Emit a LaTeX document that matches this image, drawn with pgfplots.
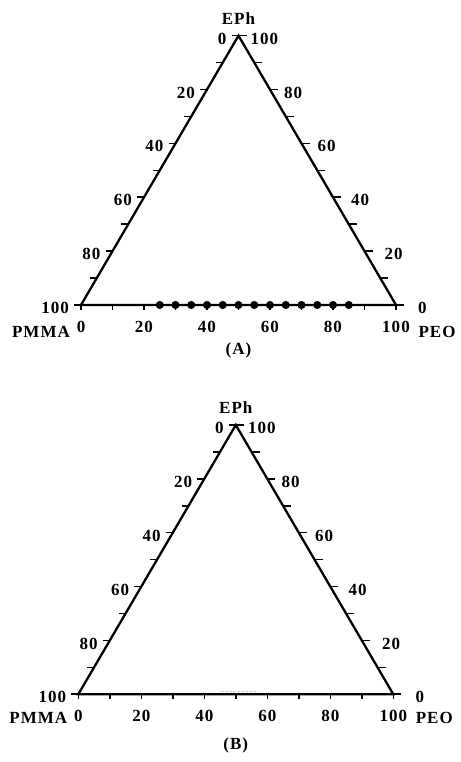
\documentclass[border=0pt]{standalone}
\usepackage{pgfplots}
\pgfplotsset{compat=1.18}
\usepackage{fontspec}
\setmainfont{Liberation Serif}
\newfontfamily\lblfont{Liberation Serif}[LetterSpace=6]
\begin{document}
\begin{tikzpicture}
\path[use as bounding box] (0pt,0pt) rectangle (460pt,762pt);
\tikzset{lbl/.style={font=\lblfont\fontsize{17}{17}\selectfont\bfseries, inner sep=0pt}}
\pgfplotsset{
  tern/.style={
    hide axis, clip=false, scale only axis,
    x=3.15pt, y=3.11pt,
    xmin=0, xmax=100, ymin=0, ymax=86.6,
    anchor=south west,
  },
}
\newcommand{\ternframe}[3]{%
  \addplot[black, line width=2.3pt, line join=miter] coordinates {(0,0) (100,0) (50,86.6) (0,0) (100,0)};
  % bottom ticks
  \pgfplotsinvokeforeach{0,10,...,100}{
    \draw[line width=1.6pt] (axis cs:##1,0) -- ++(0pt,-5pt);
  }
  % left ticks (0 at apex, 100 at bottom-left)
  \pgfplotsinvokeforeach{0,10,...,100}{
    \draw[line width=1.6pt] (axis cs:{50-0.5*##1},{86.6-0.866*##1}) -- ++(-7pt,0pt);
  }
  % right ticks (100 at apex, 0 at bottom-right)
  \pgfplotsinvokeforeach{0,10,...,100}{
    \draw[line width=1.6pt] (axis cs:{100-0.5*##1},{0.866*##1}) -- ++(8pt,0pt);
  }
  \pgfplotsinvokeforeach{0,20,...,100}{
    \node[lbl, anchor=north] at ([yshift=-16pt]axis cs:##1,0) {##1};
    \node[lbl, anchor=east] at ([xshift=-12pt,yshift=-3pt]axis cs:{50-0.5*##1},{86.6-0.866*##1}) {##1};
    \node[lbl, anchor=west] at ([xshift={22pt-0.1pt*##1},yshift=-3pt]axis cs:{100-0.5*##1},{0.866*##1}) {##1};
  }
  \node[lbl, anchor=south] at ([yshift=11pt]axis cs:50,86.6) {EPh};
  \node[lbl] at ([xshift=-40pt,yshift=-#3]axis cs:0,0) {PMMA};
  \node[lbl] at ([xshift=41pt,yshift=-#3]axis cs:100,0) {PEO};
  \node[lbl] at ([yshift=-#2]axis cs:50,0) {(#1)};
}
\begin{axis}[tern, at={(81pt,457pt)}]
  \ternframe{A}{45pt}{27pt}
  \addplot[only marks, mark=*, mark size=3.8pt, black] coordinates {
    (25,0) (30,0) (35,0) (40,0) (45,0) (50,0) (55,0) (60,0) (65,0) (70,0) (75,0) (80,0) (85,0)};
\end{axis}
\begin{axis}[tern, at={(78.3pt,67.7pt)}]
  \ternframe{B}{51pt}{24pt}
  \addplot[gray!50, line width=0.6pt, densely dotted] coordinates {(45,0.9) (57,0.9)};
\end{axis}
\end{tikzpicture}
\end{document}
